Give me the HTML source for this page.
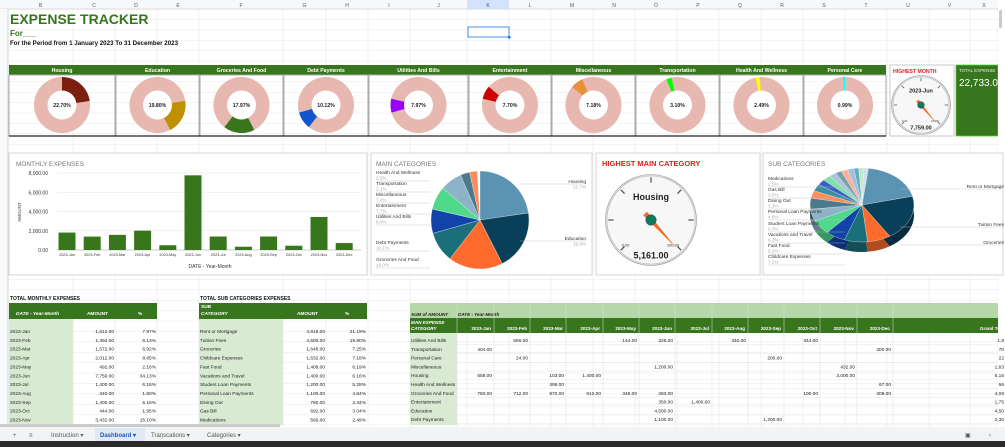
<!DOCTYPE html>
<html><head><meta charset="utf-8"><style>
html,body{margin:0;padding:0;width:1005px;height:447px;overflow:hidden;background:#fff;font-family:"Liberation Sans",Arial,sans-serif}
svg{display:block}
text{font-family:"Liberation Sans",Arial,sans-serif}
</style></head><body>
<svg id="s" width="1005" height="447" viewBox="0 0 1005 447" xmlns="http://www.w3.org/2000/svg">
<rect width="1005" height="447" fill="#fff"/>
<g id="grid"></g>
<!-- column header -->
<rect x="0" y="0" width="1005" height="9" fill="#f8f9fa"/>
<line x1="0" y1="9" x2="1005" y2="9" stroke="#c0c0c0" stroke-width="0.6"/>
<rect x="467" y="0" width="42" height="9" fill="#d3e3fd"/>
<g id="colh" font-size="5" fill="#555" text-anchor="middle"></g>
<rect x="0" y="9" width="8" height="418" fill="#f8f9fa"/>
<line x1="8" y1="9" x2="8" y2="427" stroke="#c0c0c0" stroke-width="0.6"/>
<!-- titles -->
<text x="10" y="24" font-size="14" font-weight="bold" fill="#38761d">EXPENSE TRACKER</text>
<text x="10" y="36" font-size="8" font-weight="bold" fill="#38761d">For___</text>
<text x="10" y="45" font-size="6.2" font-weight="bold" fill="#111">For the Period from 1 January 2023 To 31 December 2023</text>
<rect x="468" y="27" width="41" height="10" fill="none" stroke="#1a73e8" stroke-width="0.8"/>
<rect x="508" y="36" width="2.5" height="2.5" fill="#1a73e8"/>
<!-- donut header -->
<rect x="9" y="65" width="877" height="9.5" fill="#38761d"/>
<g id="donuts"></g>
<line x1="9" y1="136" x2="886" y2="136" stroke="#222" stroke-width="1.2"/>
<!-- highest month -->
<rect x="890" y="65" width="64" height="71" fill="#fff" stroke="#bbb" stroke-width="0.8"/>
<text x="893" y="73" font-size="5.2" font-weight="bold" fill="#e0201b">HIGHEST MONTH</text>
<g id="g1"></g>
<rect x="956" y="65" width="42" height="71" fill="#38761d" stroke="#4cd431" stroke-width="0.8"/>
<text x="959" y="72" font-size="4.5" fill="#e8f0e0">TOTAL EXPENSE</text>
<text x="959" y="86" font-size="10" fill="#fff">22,733.0</text>
<rect x="998" y="0" width="7" height="427" fill="#fff"/>
<rect x="999" y="10" width="3" height="18" rx="1.5" fill="#ccc"/>
<!-- middle charts -->
<rect x="9" y="153" width="358" height="122" fill="#fff" stroke="#ccc" stroke-width="0.8"/>
<rect x="371" y="153" width="221" height="122" fill="#fff" stroke="#ccc" stroke-width="0.8"/>
<rect x="596" y="153" width="164" height="122" fill="#fff" stroke="#ccc" stroke-width="0.8"/>
<rect x="763" y="153" width="240" height="122" fill="#fff" stroke="#ccc" stroke-width="0.8"/>
<text x="16" y="166" font-size="6.5" fill="#777">MONTHLY EXPENSES</text>
<text x="376" y="166" font-size="6.5" fill="#777">MAIN CATEGORIES</text>
<text x="602" y="166" font-size="7.5" font-weight="bold" fill="#e0201b">HIGHEST MAIN CATEGORY</text>
<text x="768" y="166" font-size="6.5" fill="#777">SUB CATEGORIES</text>
<g id="bars"></g>
<g id="pie1"></g>
<g id="g2"></g>
<g id="pie2"></g>
<!-- bottom tables -->
<g id="tables"></g>
<!-- tab bar -->
<rect x="0" y="427" width="1005" height="14" fill="#f1f3f4"/>
<rect x="95" y="428" width="50" height="13" fill="#e1e9f7"/>
<g font-size="6" fill="#555">
<text x="13" y="437">+</text><text x="29" y="437">≡</text>
<text x="51" y="437">Instruction ▾</text>
<text x="100" y="437" fill="#1a56c4" font-weight="bold">Dashboard ▾</text>
<text x="151" y="437">Transcations ▾</text>
<text x="207" y="437">Categories ▾</text>
<text x="965" y="437">▣</text><text x="989" y="437">‹</text>
</g>
<rect x="0" y="441" width="1005" height="6" fill="#2b2b2b"/>
</svg>
<script>
const NS="http://www.w3.org/2000/svg";
function el(p,t,a,txt){const e=document.createElementNS(NS,t);for(const k in a)e.setAttribute(k,a[k]);if(txt!==undefined)e.textContent=txt;p.appendChild(e);return e;}
const $=id=>document.getElementById(id);
// grid
const grid=$("grid");
const cols=[8,73,115,157,199,283,326,368,410,467,509,551,593,635,677,719,761,803,845,887,929,970,998];
cols.forEach(x=>el(grid,"line",{x1:x,y1:0,x2:x,y2:427,stroke:"#e3e3e3","stroke-width":0.5}));
for(let y=9;y<427;y+=10.4)el(grid,"line",{x1:0,y1:y,x2:998,y2:y,stroke:"#e8e8e8","stroke-width":0.5});
const letters=["B","C","D","E","F","G","H","I","J","K","L","M","N","O","P","Q","R","S","T","U","V","X"];
const ch=$("colh");
for(let i=0;i<letters.length;i++){el(ch,"text",{x:(cols[i]+cols[i+1])/2,y:7},letters[i]);}
el($("grid"),"rect",{x:8,y:9,width:990,height:0,fill:"none"});
function arc(cx,cy,r,a0,a1){const p=a=>[cx+r*Math.sin(a*2*Math.PI),cy-r*Math.cos(a*2*Math.PI)];const [x0,y0]=p(a0),[x1,y1]=p(a1);return `M${cx},${cy}L${x0},${y0}A${r},${r} 0 ${a1-a0>0.5?1:0} 1 ${x1},${y1}Z`;}
// donuts
const D=[["Housing",22.70,"#7b1f10",9,115],["Education",19.80,"#bf9000",116,199],["Groceries And Food",17.97,"#38761d",200,283],["Debt Payments",10.12,"#1155cc",284,368],["Utilities And Bills",7.97,"#9900ff",369,468],["Entertainment",7.70,"#cc0000",469,551],["Miscellaneous",7.18,"#e69138",552,635],["Transportation",3.10,"#00ff00",636,719],["Health And Wellness",2.49,"#ffff00",720,803],["Personal Care",0.99,"#00ffff",804,886]];
const dg=$("donuts");let cum=0;
D.forEach(d=>{const [n,p,c,x0,x1]=d;const cx=(x0+x1)/2,cy=105;
el(dg,"rect",{x:x0,y:75,width:x1-x0,height:61,fill:"none",stroke:"#999","stroke-width":0.8});
el(dg,"text",{x:cx,y:72,"font-size":5.2,"font-weight":"bold",fill:"#fff","text-anchor":"middle"},n);
el(dg,"circle",{cx,cy,r:28,fill:"#e6b8af"});
el(dg,"path",{d:arc(cx,cy,28,cum/100,(cum+p)/100),fill:c});
el(dg,"circle",{cx,cy,r:14.5,fill:"#fff"});
el(dg,"text",{x:cx,y:cy+2,"font-size":5.2,"font-weight":"bold",fill:"#222","text-anchor":"middle"},p.toFixed(2)+"%");
cum+=p;});
// gauges
function gauge(g,cx,cy,r,ang,top,bot,ts,bs,lo,hi){
el(g,"circle",{cx,cy,r:r+1.5,fill:"#ddd",stroke:"#999","stroke-width":0.6});
el(g,"circle",{cx,cy,r,fill:"#f7f7f7",stroke:"#bbb","stroke-width":0.6});
for(const a of [-135,-90,-45,0,45,90,135]){const t=a*Math.PI/180;el(g,"line",{x1:cx+Math.sin(t)*r*0.85,y1:cy-Math.cos(t)*r*0.85,x2:cx+Math.sin(t)*r*0.97,y2:cy-Math.cos(t)*r*0.97,stroke:"#444","stroke-width":r/40});}
el(g,"text",{x:cx,y:cy-r*0.45,"font-size":ts,"font-weight":"bold",fill:"#222","text-anchor":"middle"},top);
el(g,"text",{x:cx,y:cy+r*0.88,"font-size":bs,"font-weight":"bold",fill:"#222","text-anchor":"middle"},bot);
el(g,"text",{x:cx-r*0.58,y:cy+r*0.6,"font-size":r/11,fill:"#333","text-anchor":"middle"},lo);
el(g,"text",{x:cx+r*0.5,y:cy+r*0.6,"font-size":r/11,fill:"#333","text-anchor":"middle"},hi);
const t=ang*Math.PI/180,L=r*0.85,w=r*0.06;
const tx=cx+Math.sin(t)*L,ty=cy-Math.cos(t)*L,bx=cx-Math.sin(t)*r*0.2,by=cy+Math.cos(t)*r*0.2;
const px=Math.cos(t)*w,py=Math.sin(t)*w;
el(g,"polygon",{points:`${bx+px},${by+py} ${tx},${ty} ${bx-px},${by-py}`,fill:"#f26b2a"});
el(g,"circle",{cx,cy,r:r*0.12,fill:"#0d7a5f",stroke:"#333","stroke-width":0.4});}
gauge($("g1"),921,105,28,140,"2023-Jun","7,759.00",5.5,5.5,"0.00","10,000");
gauge($("g2"),651,220,44,138,"Housing","5,161.00",9,9,"0.00","100.00");
// bars
const B=$("bars");const vals=[1812,1394,1572,2012,492,7759,1400,340,1400,444,3432,720];
const mn=["Jan","Feb","Mar","Apr","May","Jun","Jul","Aug","Sep","Oct","Nov","Dec"];
[0,2000,4000,6000,8000].forEach(v=>{const y=250-v/8000*77;el(B,"line",{x1:57,y1:y,x2:361,y2:y,stroke:v?"#e4e4e4":"#999","stroke-width":0.6});el(B,"text",{x:48,y:y+2,"font-size":5,fill:"#333","text-anchor":"end"},v.toLocaleString("en-US",{minimumFractionDigits:2}));});
vals.forEach((v,i)=>{const cx=67+i*25.2,h=v/8000*77;el(B,"rect",{x:cx-8.5,y:250-h,width:17,height:h,fill:"#38761d"});el(B,"text",{x:cx,y:256,"font-size":3.8,fill:"#333","text-anchor":"middle"},"2023-"+mn[i]);});
el(B,"text",{x:210,y:268,"font-size":5,fill:"#333","text-anchor":"middle"},"DATE - Year-Month");
el(B,"text",{x:0,y:0,"font-size":4.5,fill:"#333","text-anchor":"middle",transform:"translate(21,212) rotate(-90)"},"AMOUNT");
// pie1
const P=$("pie1");const pd=[[22.7,"#5b93b3"],[19.8,"#0a3f5a"],[18.0,"#ff6b2d"],[10.1,"#1a6f7a"],[8.0,"#1243a8"],[7.7,"#4fd98a"],[7.2,"#8db3c8"],[3.1,"#4b7a8c"],[2.5,"#ff8c5a"]];
let c2=0;pd.forEach(d=>{el(P,"path",{d:arc(480,220,49,c2/100,(c2+d[0])/100),fill:d[1],stroke:"#fff","stroke-width":0.3});c2+=d[0];});
const lab1=[["Health And Wellness","2.5%",376,174],["Transportation","3.1%",376,185],["Miscellaneous","7.2%",376,196],["Entertainment","7.7%",376,207],["Utilities And Bills","8.0%",376,218],["Debt Payments","10.1%",376,244],["Groceries And Food","18.0%",376,261]];
lab1.forEach(l=>{el(P,"text",{x:l[2],y:l[3],"font-size":4.8,fill:"#333"},l[0]);el(P,"text",{x:l[2],y:l[3]+5.5,"font-size":4.6,fill:"#aaa"},l[1]);el(P,"line",{x1:l[2],y1:l[3]+7,x2:430,y2:l[3]+7,stroke:"#bbb","stroke-width":0.4});});
[["Housing","22.7%",586,183],["Education","19.8%",586,240]].forEach(l=>{el(P,"text",{x:l[2],y:l[3],"font-size":4.8,fill:"#333","text-anchor":"end"},l[0]);el(P,"text",{x:l[2],y:l[3]+5.5,"font-size":4.6,fill:"#aaa","text-anchor":"end"},l[1]);el(P,"line",{x1:520,y1:l[3]+1,x2:586,y2:l[3]+1,stroke:"#bbb","stroke-width":0.4});});
// pie2 (3D)
const Q=$("pie2");const sd=[[21.2,"#5b93b3"],[19.8,"#0a3f5a"],[7.3,"#ff6b2d"],[7.2,"#1a6f7a"],[6.2,"#1243a8"],[6.2,"#4fd98a"],[5.3,"#8db3c8"],[4.8,"#4b7a8c"],[3.3,"#ff8c5a"],[3.0,"#3a8fa0"],[2.5,"#3a5fc8"],[2.5,"#7fe0a8"],[2.2,"#a8c8d8"],[2,"#7aa0b0"],[2,"#ffb090"],[2,"#9fc0e0"],[1.5,"#6ab"],[1.5,"#bfe8cf"],[1.5,"#d0e0ea"]];
const cx3=862,cy3=205,rx=52,ry=37,dep=10;
function earc(a0,a1,dy){const p=a=>[cx3+rx*Math.sin(a*2*Math.PI),cy3+dy-ry*Math.cos(a*2*Math.PI)];const [x0,y0]=p(a0),[x1,y1]=p(a1);return `M${cx3},${cy3+dy}L${x0},${y0}A${rx},${ry} 0 ${a1-a0>0.5?1:0} 1 ${x1},${y1}Z`;}
let c3=0;sd.forEach(d=>{el(Q,"path",{d:earc(c3/100,(c3+d[0])/100,dep),fill:d[1],filter:"",opacity:1,style:"filter:brightness(0.7)"});c3+=d[0];});
c3=0;sd.forEach(d=>{el(Q,"path",{d:earc(c3/100,(c3+d[0])/100,0),fill:d[1],stroke:"#fff","stroke-width":0.3});c3+=d[0];});
const lab2=[["Medications","2.5%",180],["Gas Bill","3.0%",191],["Dining Out","3.3%",202],["Personal Loan Payments","4.8%",213],["Student Loan Payments","5.3%",225],["Vacations and Travel","6.2%",236],["Fast Food","6.2%",247],["Childcare Expenses","7.2%",258]];
lab2.forEach(l=>{el(Q,"text",{x:768,y:l[2],"font-size":4.8,fill:"#333"},l[0]);el(Q,"text",{x:768,y:l[2]+5.5,"font-size":4.6,fill:"#aaa"},l[1]);el(Q,"line",{x1:768,y1:l[2]+7,x2:845,y2:l[2]+7,stroke:"#bbb","stroke-width":0.4});});
[["Rent or Mortgage","21.",188],["Tuition Fees","19.",226],["Groceries","7.",244]].forEach(l=>{el(Q,"text",{x:1004,y:l[2],"font-size":4.8,fill:"#333","text-anchor":"end"},l[0]);el(Q,"line",{x1:900,y1:l[2]+1,x2:1003,y2:l[2]+1,stroke:"#bbb","stroke-width":0.4});});
// tables
const T=$("tables");
el(T,"text",{x:10,y:300,"font-size":5,"font-weight":"bold",fill:"#111"},"TOTAL MONTHLY EXPENSES");
el(T,"text",{x:200,y:300,"font-size":5,"font-weight":"bold",fill:"#111"},"TOTAL SUB CATEGORIES EXPENSES");
el(T,"rect",{x:9,y:303,width:148,height:16,fill:"#38761d"});
el(T,"rect",{x:199,y:303,width:168,height:16,fill:"#38761d"});
el(T,"rect",{x:9,y:319,width:64,height:106,fill:"#d9ead3"});
el(T,"rect",{x:199,y:319,width:84,height:106,fill:"#d9ead3"});
const w=(x,y,s,o)=>el(T,"text",Object.assign({x,y,"font-size":4.8,fill:"#fff","font-weight":"bold"},o||{}),s);
w(16,315,"DATE - Year-Month",{"font-style":"italic"});w(108,315,"AMOUNT",{"text-anchor":"end"});w(138,315,"%");
w(201,308,"SUB");w(201,315,"CATEGORY",{"font-style":"italic"});w(318,315,"AMOUNT",{"text-anchor":"end"});w(345,315,"%");
const m=[["2023-Jan","1,812.00","7.97%"],["2023-Feb","1,394.00","6.13%"],["2023-Mar","1,572.00","6.92%"],["2023-Apr","2,012.00","8.85%"],["2023-May","492.00","2.16%"],["2023-Jun","7,759.00","34.13%"],["2023-Jul","1,400.00","6.16%"],["2023-Aug","340.00","1.50%"],["2023-Sep","1,400.00","6.16%"],["2023-Oct","444.00","1.95%"],["2023-Nov","3,432.00","15.10%"]];
const sc=[["Rent or Mortgage","4,818.00","21.19%"],["Tuition Fees","4,500.00","19.80%"],["Groceries","1,648.00","7.25%"],["Childcare Expenses","1,632.00","7.18%"],["Fast Food","1,408.00","6.19%"],["Vacations and Travel","1,400.00","6.16%"],["Student Loan Payments","1,200.00","5.28%"],["Personal Loan Payments","1,100.00","4.84%"],["Dining Out","760.00","3.34%"],["Gas Bill","692.00","3.04%"],["Medications","566.00","2.49%"]];
const tx=(x,y,s,a)=>el(T,"text",{x,y,"font-size":4.8,fill:"#222","text-anchor":a||"start"},s);
m.forEach((r,i)=>{const y=333+i*8.85;tx(10,y,r[0]);tx(114,y,r[1],"end");tx(156,y,r[2],"end");});
sc.forEach((r,i)=>{const y=333+i*8.85;tx(200,y,r[0]);tx(325,y,r[1],"end");tx(366,y,r[2],"end");});
// pivot
el(T,"rect",{x:410,y:303,width:588,height:15,fill:"#b6d7a8"});
el(T,"rect",{x:410,y:318,width:588,height:15,fill:"#38761d"});
el(T,"rect",{x:410,y:333,width:47,height:92,fill:"#d9ead3"});
el(T,"text",{x:411,y:316,"font-size":4.6,"font-weight":"bold","font-style":"italic",fill:"#222"},"SUM of AMOUNT");
el(T,"text",{x:458,y:316,"font-size":4.6,"font-weight":"bold","font-style":"italic",fill:"#222"},"DATE - Year-Month");
w(411,324,"MAN EXPENSE",{"font-size":4.6,"font-style":"italic"});w(411,330,"CATEGORY",{"font-size":4.6,"font-style":"italic"});
const pc=[457,494,530,566,603,639,675,712,748,784,820,857,893];
pc.forEach((x,i)=>{el(T,"line",{x1:x,y1:303,x2:x,y2:425,stroke:"#ddd","stroke-width":0.5});w(i<12?pc[i+1]-3:1000,330,i<12?"2023-"+mn[i]:"Grand To",{"text-anchor":"end","font-size":4.6});});
const pv=[["Utilities And Bills",{1:"656.00",4:"144.00",5:"326.00",7:"340.00",9:"344.00"},"1,8"],["Transportation",{0:"404.00",11:"300.00"},"70"],["Personal Care",{1:"24.00",8:"200.00"},"22"],["Miscellaneous",{5:"1,200.00",10:"432.00"},"1,63"],["Housing",{0:"658.00",2:"103.00",3:"1,400.00",10:"3,000.00"},"5,16"],["Health And Wellness",{2:"499.00",11:"67.00"},"56"],["Groceries And Food",{0:"750.00",1:"712.00",2:"970.00",3:"612.00",4:"346.00",5:"283.00",9:"100.00",11:"309.00"},"4,08"],["Entertainment",{5:"350.00",6:"1,400.00"},"1,75"],["Education",{5:"4,500.00"},"4,50"],["Debt Payments",{5:"1,100.00",8:"1,200.00"},"2,30"]];
pv.forEach((r,i)=>{const y=342+i*8.8;el(T,"line",{x1:410,y1:y+2.6,x2:998,y2:y+2.6,stroke:"#e6e6e6","stroke-width":0.5});tx(411,y,r[0]);for(const k in r[1])tx(pc[+k+1]-2,y,r[1][k],"end");tx(1004,y,r[2],"end");});
el(T,"rect",{x:0,y:424,width:280,height:3,fill:"#ccc"});
</script>
</body></html>
